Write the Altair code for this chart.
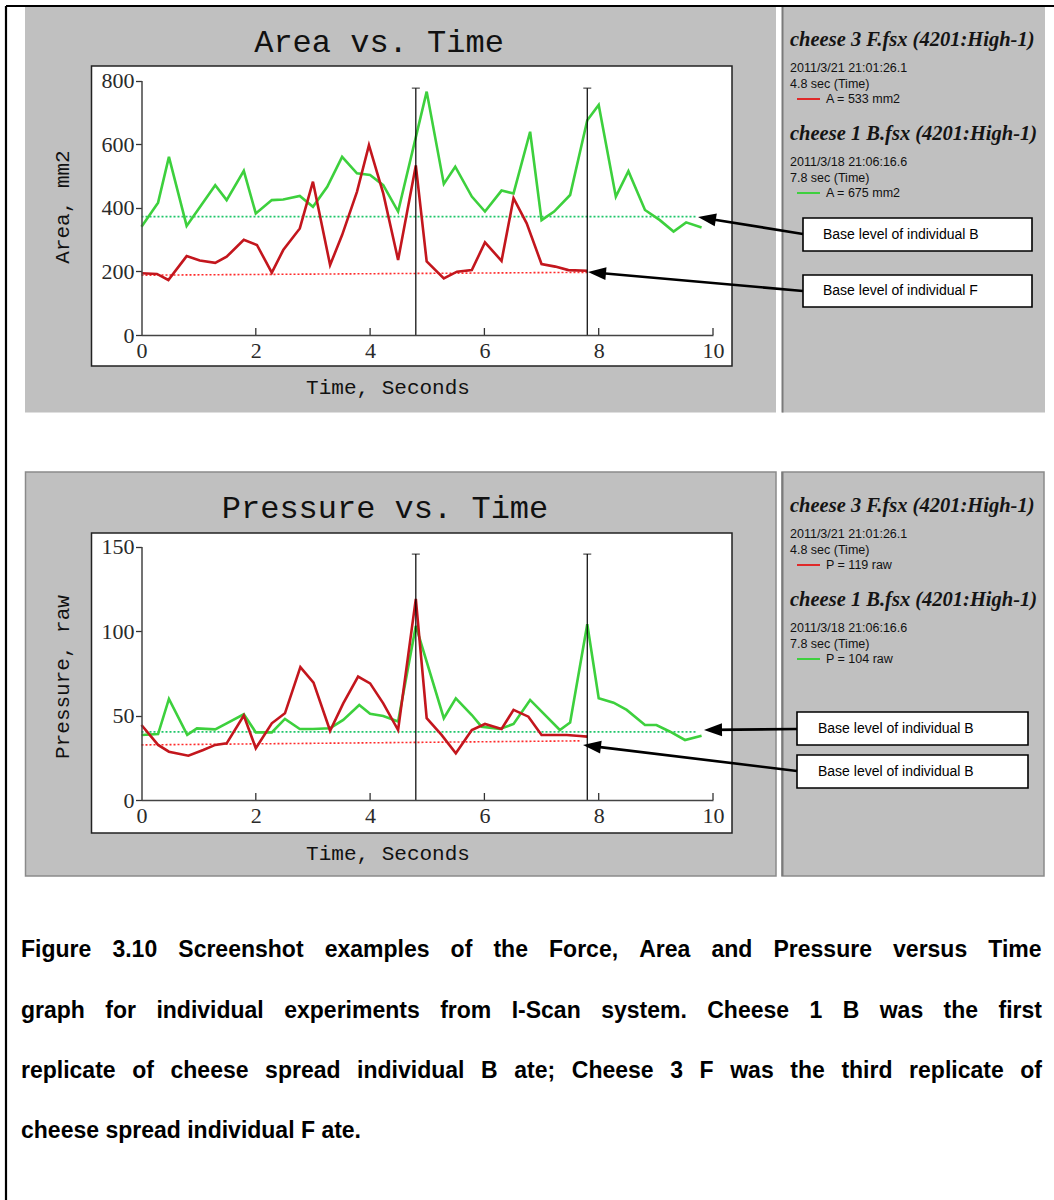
import math
import altair as alt
import pandas as pd

W, H = 1054, 1200

# ---------------- data ----------------
area_F_time = [0, 0.27, 0.47, 0.79, 1.02, 1.29, 1.49, 1.79, 2.02, 2.28, 2.48, 2.77, 3.0, 3.30, 3.51, 3.77,
               3.98, 4.23, 4.49, 4.8, 4.99, 5.29, 5.52, 5.78, 6.01, 6.30, 6.51, 6.74, 7.0, 7.24, 7.47, 7.8]
area_F_mm2 = [194, 192, 173, 248, 234, 227, 246, 299, 283, 196, 267, 335, 482, 220, 314, 450,
              597, 445, 236, 533, 231, 178, 199, 204, 291, 233, 430, 351, 223, 215, 204, 202]

area_B_time = [0, 0.29, 0.48, 0.79, 1.29, 1.49, 1.79, 2.0, 2.28, 2.48, 2.77, 3.0, 3.25, 3.51, 3.77, 4.0,
               4.23, 4.49, 4.99, 5.29, 5.49, 5.78, 6.01, 6.30, 6.51, 6.80, 7.0, 7.22, 7.5, 7.8, 8.0,
               8.30, 8.52, 8.81, 9.07, 9.31, 9.53, 9.8]
area_B_mm2 = [340, 416, 560, 343, 471, 424, 516, 382, 424, 426, 437, 403, 466, 560, 508, 503,
              471, 388, 765, 475, 529, 435, 388, 454, 445, 639, 361, 388, 440, 675, 723,
              435, 515, 393, 361, 325, 354, 338]

pres_F_time = [0, 0.29, 0.48, 0.82, 1.08, 1.29, 1.49, 1.79, 2.0, 2.28, 2.51, 2.78, 3.01, 3.30, 3.53, 3.79,
               4.0, 4.23, 4.49, 4.8, 4.99, 5.25, 5.50, 5.78, 6.01, 6.30, 6.51, 6.77, 7.0, 7.44, 7.67, 7.8]
pres_F_raw = [44.4, 32.6, 28.6, 26.2, 29.6, 32.6, 33.5, 50, 30.6, 45.4, 51.3, 78.6, 69.5, 41, 57.2, 73,
              69, 57.2, 41.4, 119, 48.4, 38.5, 27.6, 41.4, 45, 42, 53.3, 49.3, 38.5, 38.5, 37.9, 37.5]

pres_B_time = [0, 0.29, 0.48, 0.80, 0.97, 1.29, 1.49, 1.79, 2.0, 2.28, 2.51, 2.77, 3.0, 3.30, 3.53, 3.81,
               4.0, 4.23, 4.49, 4.8, 5.29, 5.50, 5.78, 5.95, 6.27, 6.51, 6.80, 7.32, 7.50, 7.8, 8.0,
               8.26, 8.49, 8.81, 9.01, 9.25, 9.51, 9.80]
pres_B_raw = [38.5, 39, 59.8, 38.5, 42.4, 41.8, 45.4, 50.7, 40, 40, 48, 42, 42, 42.5, 47.4, 56.2,
              51, 49.7, 46.4, 103, 48.4, 60.2, 50.3, 43.4, 42, 45, 59.2, 41.4, 45.8, 104, 60.2,
              57.6, 53.3, 44.4, 44.4, 40.4, 35.5, 38]

# base levels (dotted lines): [start time, end time], [start value, end value]
area_base_B_time, area_base_B_val = [0, 9.7], [372, 372]
area_base_F_time, area_base_F_val = [0, 7.8], [188, 197]
pres_base_B_time, pres_base_B_val = [0, 9.7], [40.3, 40.3]
pres_base_F_time, pres_base_F_val = [0, 7.7], [32.6, 35.0]

cursor_times = [4.8, 7.8]
area_cursor_top = 776
pres_cursor_top = 145.5

x_ticks = [0, 2, 4, 6, 8, 10]
area_ticks = [0, 200, 400, 600, 800]
pres_ticks = [0, 50, 100, 150]

legend_top = [
    ("cheese 3 F.fsx (4201:High-1)", "2011/3/21 21:01:26.1", "4.8 sec (Time)", "A = 533 mm2"),
    ("cheese 1 B.fsx (4201:High-1)", "2011/3/18 21:06:16.6", "7.8 sec (Time)", "A = 675 mm2"),
]
legend_bottom = [
    ("cheese 3 F.fsx (4201:High-1)", "2011/3/21 21:01:26.1", "4.8 sec (Time)", "P = 119 raw"),
    ("cheese 1 B.fsx (4201:High-1)", "2011/3/18 21:06:16.6", "7.8 sec (Time)", "P = 104 raw"),
]
box_labels_top = ["Base level of individual B", "Base level of individual F"]
box_labels_bottom = ["Base level of individual B", "Base level of individual B"]

caption_lines = [
    "Figure 3.10 Screenshot examples of the Force, Area and Pressure versus Time",
    "graph for individual experiments from I-Scan system. Cheese 1 B was the first",
    "replicate of cheese spread individual B ate; Cheese 3 F was the third replicate of",
    "cheese spread individual F ate.",
]

# ---------------- styles ----------------
RED = "#c3161d"
GREEN = "#3dd03d"
RED_DOT = "#ff2a2a"
GREEN_DOT = "#1fc66a"
GRAY = "#c0c0c0"
AX0, AX1 = 141.5, 713.0
SERIF = "Liberation Serif"
MONO = "Liberation Mono"
SANS = "Liberation Sans"
DY = 466  # vertical shift between the two screenshots


def px(f):
    return alt.X(f + ":Q", scale=None, axis=None)


def py(f):
    return alt.Y(f + ":Q", scale=None, axis=None)


# ---------------- decorations ----------------
rects = pd.DataFrame([
    dict(x=25, x2=776, y=7, y2=412.5, fill=GRAY, stroke=GRAY, sw=0),
    dict(x=782, x2=1045, y=7, y2=412.5, fill=GRAY, stroke=GRAY, sw=0),
    dict(x=25.5, x2=776, y=472, y2=876, fill=GRAY, stroke="#8a8a8a", sw=1.5),
    dict(x=782, x2=1044, y=472, y2=876, fill=GRAY, stroke="#8a8a8a", sw=1.5),
    dict(x=91.5, x2=732, y=66, y2=366, fill="white", stroke="#222222", sw=1.5),
    dict(x=91.5, x2=732, y=66 + DY + 1, y2=366 + DY + 1, fill="white", stroke="#222222", sw=1.5),
    dict(x=803, x2=1032, y=218, y2=251, fill="white", stroke="black", sw=1.6),
    dict(x=803, x2=1032, y=275, y2=307, fill="white", stroke="black", sw=1.6),
    dict(x=797, x2=1028, y=712, y2=745, fill="white", stroke="black", sw=1.6),
    dict(x=797, x2=1028, y=755, y2=788, fill="white", stroke="black", sw=1.6),
])
rect_layer = alt.Chart(rects).mark_rect().encode(
    x=px("x"), x2=alt.X2("x2:Q"), y=py("y"), y2=alt.Y2("y2:Q"),
    fill=alt.Fill("fill:N", scale=None), stroke=alt.Stroke("stroke:N", scale=None),
    strokeWidth=alt.StrokeWidth("sw:Q", scale=None),
)

# arrows: tip and tail
arrows = [((698, 217), (803, 234)), ((588, 272), (803, 291)),
          ((704, 730), (797, 729)), ((583, 745), (797, 771))]
R = 9.0
lines_rows = [
    dict(x=6, y=6, x2=6, y2=1200, c="black", w=2.2),
    dict(x=6, y=6, x2=1054, y2=6, c="black", w=2.2),
    dict(x=782.5, y=7, x2=782.5, y2=412.5, c="#7a7a7a", w=2),
    dict(x=782.5, y=472, x2=782.5, y2=876, c="#7a7a7a", w=2),
    dict(x=797, y=99, x2=820, y2=99, c="#e02a2a", w=2),
    dict(x=797, y=193, x2=820, y2=193, c="#3fd03f", w=2),
    dict(x=797, y=99 + DY, x2=820, y2=99 + DY, c="#e02a2a", w=2),
    dict(x=797, y=193 + DY, x2=820, y2=193 + DY, c="#3fd03f", w=2),
]
heads = []
for (tx, ty), (bx, by) in arrows:
    dx, dy = bx - tx, by - ty
    L = math.hypot(dx, dy)
    ang = math.degrees(math.atan2(dy, dx))
    cx, cy = tx + R * dx / L, ty + R * dy / L
    heads.append(dict(x=cx, y=cy, a=ang))
    lines_rows.append(dict(x=cx, y=cy, x2=bx, y2=by, c="black", w=2.6))
rule_layer = alt.Chart(pd.DataFrame(lines_rows)).mark_rule().encode(
    x=px("x"), y=py("y"), x2=alt.X2("x2:Q"), y2=alt.Y2("y2:Q"),
    color=alt.Color("c:N", scale=None), strokeWidth=alt.StrokeWidth("w:Q", scale=None),
)
head_layer = alt.Chart(pd.DataFrame(heads)).mark_point(
    shape="M-1,0L1,-0.72L1,0.72Z", filled=True, size=(2 * R) ** 2, color="black", opacity=1, strokeWidth=0
).encode(x=px("x"), y=py("y"), angle=alt.Angle("a:Q", scale=None))

# texts
titles = pd.DataFrame([dict(x=379, y=42, t="Area vs. Time"), dict(x=385, y=42 + DY, t="Pressure vs. Time")])
title_layer = alt.Chart(titles).mark_text(font=MONO, fontSize=32, color="#111111", baseline="middle",
                                          align="center").encode(x=px("x"), y=py("y"), text="t:N")
xt = pd.DataFrame([dict(x=388, y=388, t="Time, Seconds"), dict(x=388, y=388 + DY, t="Time, Seconds")])
xt_layer = alt.Chart(xt).mark_text(font=MONO, fontSize=21, color="#111111", baseline="middle",
                                   align="center").encode(x=px("x"), y=py("y"), text="t:N")
yt = pd.DataFrame([dict(x=63, y=207, t="Area, mm2"), dict(x=63, y=677, t="Pressure, raw")])
yt_layer = alt.Chart(yt).mark_text(font=MONO, fontSize=21, color="#111111", baseline="middle",
                                   align="center", angle=270).encode(x=px("x"), y=py("y"), text="t:N")

leg_title_rows, leg_small_rows = [], []
for base, leg in ((0, legend_top), (DY, legend_bottom)):
    for k, (ttl, date, sec, val) in enumerate(leg):
        off = base + k * 94
        leg_title_rows.append(dict(x=790, y=40 + off, t=ttl))
        leg_small_rows.append(dict(x=790, y=68 + off, t=date))
        leg_small_rows.append(dict(x=790, y=84 + off, t=sec))
        leg_small_rows.append(dict(x=826, y=99 + off, t=val))
leg_title_layer = alt.Chart(pd.DataFrame(leg_title_rows)).mark_text(
    font=SERIF, fontSize=20.5, fontWeight="bold", fontStyle="italic", color="#141414",
    align="left", baseline="middle").encode(x=px("x"), y=py("y"), text="t:N")
leg_small_layer = alt.Chart(pd.DataFrame(leg_small_rows)).mark_text(
    font=SANS, fontSize=12.5, color="#111111", align="left", baseline="middle"
).encode(x=px("x"), y=py("y"), text="t:N")

box_rows = [dict(x=823, y=235, t=box_labels_top[0]), dict(x=823, y=291, t=box_labels_top[1]),
            dict(x=818, y=729, t=box_labels_bottom[0]), dict(x=818, y=772, t=box_labels_bottom[1])]
box_layer = alt.Chart(pd.DataFrame(box_rows)).mark_text(
    font=SANS, fontSize=14, color="black", align="left", baseline="middle"
).encode(x=px("x"), y=py("y"), text="t:N")

# caption (justified lines)
HB = {" ": 278, ",": 278, ".": 278, ";": 333, "-": 333}
HB.update({d: 556 for d in "0123456789"})
HB.update(dict(zip("abcdefghijklmnopqrstuvwxyz",
                   [556, 611, 556, 611, 556, 333, 611, 611, 278, 278, 556, 278, 889, 611, 611, 611,
                    611, 389, 556, 333, 611, 556, 778, 556, 556, 500])))
HB.update(dict(zip("ABCDEFGHIJKLMNOPQRSTUVWXYZ",
                   [722, 722, 722, 722, 667, 611, 778, 722, 278, 556, 722, 611, 833, 722, 778, 667,
                    778, 722, 667, 611, 722, 667, 944, 667, 667, 611])))
CAP = 23
cap_left, cap_right = 21, 1042
cap_y = [950, 1011, 1071, 1131]


def tw(s):
    return sum(HB.get(c, 556) for c in s) * CAP / 1000.0


cap_rows = []
for i, line in enumerate(caption_lines):
    if i < len(caption_lines) - 1:
        words = line.split(" ")
        widths = [tw(w) for w in words]
        gap = (cap_right - cap_left - sum(widths)) / (len(words) - 1)
        xx = cap_left
        for w, wd in zip(words, widths):
            cap_rows.append(dict(x=xx, y=cap_y[i], t=w))
            xx += wd + gap
    else:
        cap_rows.append(dict(x=cap_left, y=cap_y[i], t=line))
cap_layer = alt.Chart(pd.DataFrame(cap_rows)).mark_text(
    font=SANS, fontSize=CAP, fontWeight="bold", color="black", align="left", baseline="middle"
).encode(x=px("x"), y=py("y"), text="t:N")


# ---------------- data panels ----------------
def panel(tF, vF, tB, vB, bBt, bBv, bFt, bFv, top, yticks, ymax, ypx0, ypx1):
    xs = alt.Scale(domain=[0, 10], range=[AX0, AX1], nice=False, zero=False)
    ys = alt.Scale(domain=[0, ymax], range=[ypx0, ypx1], nice=False, zero=False)
    xax = alt.Axis(orient="bottom", offset=-(H - ypx0), values=x_ticks, ticks=False, tickSize=0,
                   grid=False, title=None, labelFont=SERIF, labelFontSize=22, labelColor="#2a2a2a",
                   labelPadding=5, domainColor="#444444", domainWidth=1.5, labelOverlap=False,
                   labelFlush=False, format="d", zindex=2)
    yax = alt.Axis(orient="left", offset=-AX0, values=yticks, ticks=True, tickSize=6,
                   tickColor="#333333", tickWidth=1.3, grid=False, title=None, labelFont=SERIF,
                   labelFontSize=22, labelColor="#2a2a2a", labelPadding=1.5, domainColor="#444444",
                   domainWidth=1.5, labelOverlap=False, labelFlush=False, format="d", zindex=2)
    X = alt.X("t:Q", scale=xs, axis=xax)
    Y = alt.Y("v:Q", scale=ys, axis=yax)
    dF = pd.DataFrame({"t": tF, "v": vF})
    dB = pd.DataFrame({"t": tB, "v": vB})
    dbB = pd.DataFrame({"t": bBt, "v": bBv})
    dbF = pd.DataFrame({"t": bFt, "v": bFv})
    dcur = pd.DataFrame({"t": cursor_times, "v": [0] * len(cursor_times), "v2": [top] * len(cursor_times)})
    dcap = pd.DataFrame({"t": cursor_times, "v": [top] * len(cursor_times)})
    dtk = pd.DataFrame({"t": x_ticks[1:], "v": [0] * (len(x_ticks) - 1)})
    return alt.layer(
        alt.Chart(dbB).mark_line(color=GREEN_DOT, strokeDash=[2, 2], strokeWidth=1.6).encode(X, Y),
        alt.Chart(dbF).mark_line(color=RED_DOT, strokeDash=[2, 2], strokeWidth=1.6).encode(X, Y),
        alt.Chart(dB).mark_line(color=GREEN, strokeWidth=2.6).encode(X, Y),
        alt.Chart(dF).mark_line(color=RED, strokeWidth=2.6).encode(X, Y),
        alt.Chart(dcur).mark_rule(color="black", strokeWidth=1.2).encode(X, Y, y2="v2:Q"),
        alt.Chart(dcap).mark_tick(color="black", orient="horizontal", size=8, thickness=1.2).encode(X, Y),
        alt.Chart(dtk).mark_rule(color="#333333", strokeWidth=1.3).encode(X, Y, y2=alt.value(ypx0 - 7)),
    )


area_panel = panel(area_F_time, area_F_mm2, area_B_time, area_B_mm2,
                   area_base_B_time, area_base_B_val, area_base_F_time, area_base_F_val,
                   area_cursor_top, area_ticks, 800, 335.0, 80.5)
pres_panel = panel(pres_F_time, pres_F_raw, pres_B_time, pres_B_raw,
                   pres_base_B_time, pres_base_B_val, pres_base_F_time, pres_base_F_val,
                   pres_cursor_top, pres_ticks, 150, 800.0, 546.5)

chart = alt.layer(
    rect_layer, rule_layer,
    area_panel, pres_panel,
    head_layer, title_layer, xt_layer, yt_layer,
    leg_title_layer, leg_small_layer, box_layer, cap_layer,
).resolve_scale(
    x="independent", y="independent"
).properties(
    width=W, height=H, padding=0, autosize=alt.AutoSizeParams(type="none"),
    background="white",
).configure_view(stroke="transparent")

chart.save("out.html", embed_options={"renderer": "svg", "actions": False})
